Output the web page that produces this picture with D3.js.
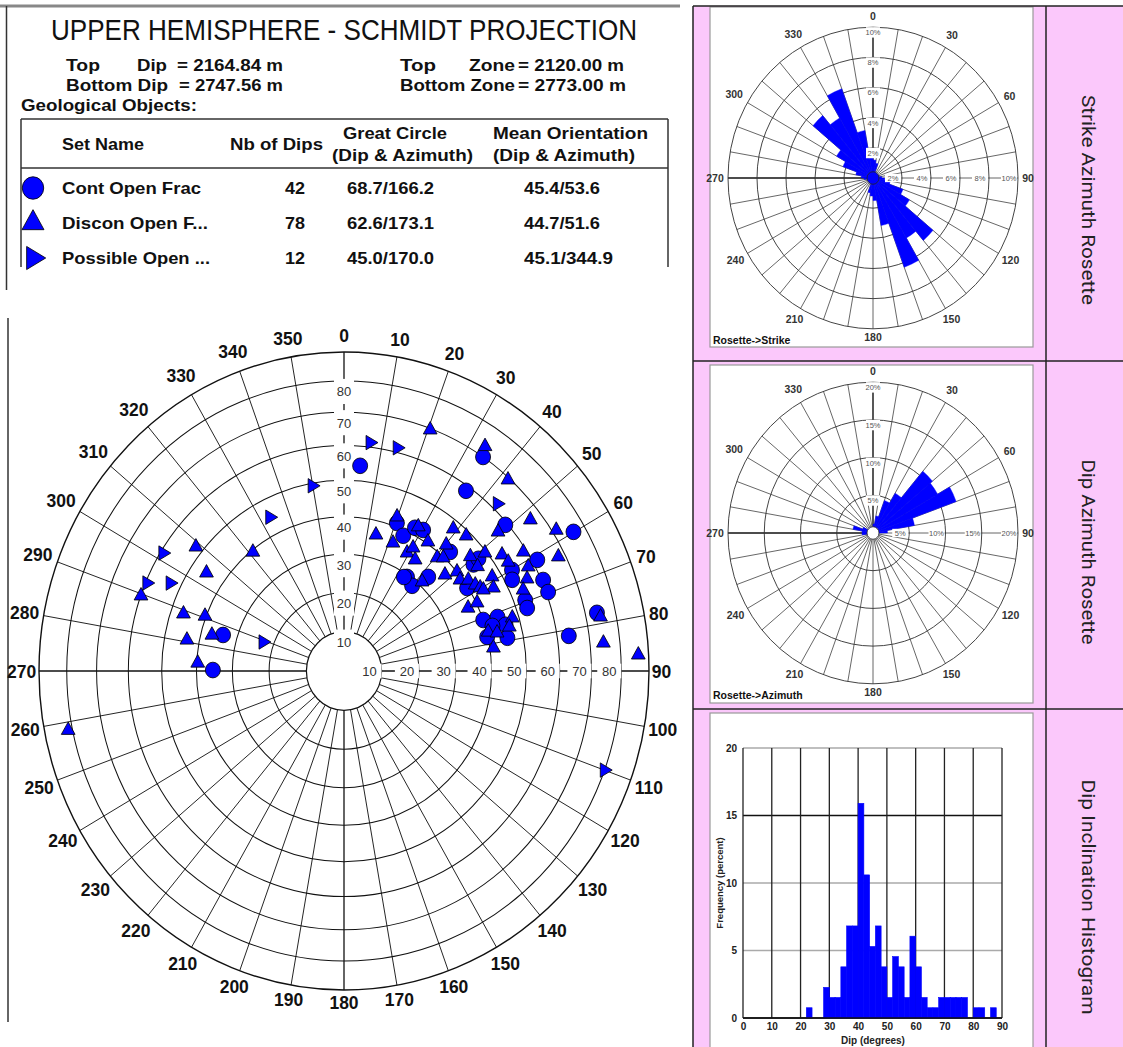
<!DOCTYPE html>
<html>
<head>
<meta charset="utf-8">
<script src="https://cdn.jsdelivr.net/npm/d3@7"></script>
<style>
  body { margin: 0; background: #fff; }
  svg { display: block; font-family: "Liberation Sans", Arial, sans-serif; }
</style>
</head>
<body>
<script>
// ---- data ----
// stereonet points, [dip, azimuth]
const contOpenFrac = [
  [54.3, 4.7], [70.0, 34.2], [58.6, 35.3], [59.3, 49.1], [75.9, 59.9], [61.5, 61.2],
  [41.0, 20.5], [38.5, 24.6], [41.9, 27.4], [42.5, 30.4], [42.3, 43.0], [29.5, 35.0],
  [28.5, 39.9], [29.0, 33.7], [33.2, 43.1], [44.9, 51.8], [47.0, 51.4], [39.7, 57.2],
  [53.4, 60.1], [52.1, 62.6], [53.3, 69.5], [53.1, 71.8], [60.5, 66.4], [60.6, 69.7],
  [40.0, 70.7], [44.1, 71.4], [45.7, 74.7], [42.0, 73.8], [45.4, 79.0], [39.8, 77.2],
  [73.8, 77.6], [63.6, 81.5], [33.9, 285.9], [35.4, 270.4]
];
const disconOpenFrac = [
  [69.6, 20.5], [73.1, 33.3], [69.4, 41.9], [66.3, 52.2], [56.3, 49.2], [71.3, 57.6],
  [67.8, 63.0], [59.0, 57.6], [42.6, 19.8], [36.2, 13.8], [35.6, 21.8], [42.6, 28.3],
  [40.5, 34.2], [34.9, 29.2], [34.5, 33.8], [36.9, 30.4], [47.7, 38.8], [48.7, 43.4],
  [43.0, 40.3], [38.7, 40.7], [39.8, 42.5], [31.1, 42.5], [36.9, 47.7], [40.0, 50.0],
  [39.3, 53.1], [45.6, 49.1], [49.5, 51.3], [45.5, 53.2], [41.2, 55.0], [42.1, 57.9],
  [42.9, 59.7], [47.4, 58.7], [46.2, 62.0], [43.4, 60.9], [37.3, 64.1], [40.2, 63.9],
  [53.2, 54.9], [53.6, 57.6], [58.1, 61.6], [56.2, 64.3], [53.8, 66.6], [48.1, 73.2],
  [46.6, 75.7], [40.4, 75.5], [42.8, 76.6], [41.0, 81.6], [74.7, 78.6], [74.4, 84.1],
  [86.2, 87.0], [81.5, 258.4], [39.5, 321.3], [52.2, 308.7], [45.4, 304.3], [59.9, 289.5],
  [46.3, 288.8], [40.3, 290.7], [36.9, 284.6], [43.5, 280.7], [39.7, 273.0]
];
const possibleOpen = [
  [61.3, 6.8], [61.3, 14.0], [61.8, 43.8], [79.9, 110.0], [49.3, 349.8],
  [44.9, 333.2], [59.3, 301.9], [59.6, 293.1], [53.2, 295.8], [22.9, 288.9]
];

// header table
const setNames = ["Cont Open Frac", "Discon Open F...", "Possible Open ..."];
const nbDips = ["42", "78", "12"];
const greatCircle = ["68.7/166.2", "62.6/173.1", "45.0/170.0"];
const meanOrientation = ["45.4/53.6", "44.7/51.6", "45.1/344.9"];

// stereonet grid
const ringDips = [20, 30, 40, 50, 60, 70, 80];
const dipLabels = [10, 20, 30, 40, 50, 60, 70, 80];
const azimuthTicks = d3.range(0, 360, 10);

// strike rosette (10 degree bins, bidirectional)
const strikeBins = [0, 10, 20, 30, 40, 50, 60, 70, 80, 90, 100, 110, 120, 130, 140, 150, 160, 170];
const strikePct = [1.2, 1.0, 0.4, 0.3, 0.3, 0.3, 0.4, 0.4, 0.6, 0.8, 1.2, 2.2, 2.9, 5.4, 4.6, 6.3, 3.2, 1.5];

// dip azimuth rosette (10 degree bins)
const dipAzBins = d3.range(0, 360, 10);
const dipAzPct = [1.2, 2.3, 4.6, 6.1, 10.7, 10.3, 12.2, 5.8, 2.0, 0.8, 0.8, 0, 0, 0, 0, 0, 0, 0,
                  0, 0, 0, 0, 0, 0, 0, 0.8, 1.5, 1.5, 2.8, 1.5, 0.8, 0.8, 0.8, 0.8, 0.8, 0.8];

// dip inclination histogram (2 degree bins)
const histBins = d3.range(0, 90, 2);
const histPct = [0, 0, 0, 0, 0, 0, 0, 0, 0, 0, 0, 0.76, 0, 0, 2.27, 1.52, 1.52, 3.79, 6.82, 6.82,
                 15.9, 10.6, 5.3, 6.82, 3.79, 1.52, 4.55, 3.79, 1.52, 6.06, 3.79, 1.52, 0.76, 0.76,
                 1.52, 1.52, 1.52, 1.52, 1.52, 0, 0.76, 0.76, 0, 0.76, 0];
const histXTicks = d3.range(0, 91, 10);
const histYTicks = [0, 5, 10, 15, 20];

const panelTitles = ["Strike Azimuth Rosette", "Dip Azimuth Rosette", "Dip Inclination Histogram"];

// ---- drawing ----
const W = 1123, H = 1047;
const blue = "#0000ff", pink = "#fbc8fb";
const svg = d3.select("body").append("svg").attr("width", W).attr("height", H);
const angle = d3.scaleLinear().domain([0, 360]).range([0, 2 * Math.PI]);

// right side panels
svg.append("rect").attr("x", 693).attr("y", 6).attr("width", 430).attr("height", H - 6).attr("fill", pink);
[[710, 7, 323, 340], [710, 365, 323, 338], [710, 713, 323, 340]].forEach(b => {
  svg.append("rect").attr("x", b[0]).attr("y", b[1]).attr("width", b[2]).attr("height", b[3])
    .attr("fill", "#fff").attr("stroke", "#999").attr("stroke-width", 1.2);
});
const frame = svg.append("g").attr("stroke", "#222").attr("stroke-width", 1.5);
[[693, 6, 1123, 6], [693, 6, 693, H], [1046, 6, 1046, H], [693, 361, 1123, 361], [693, 709, 1123, 709]]
  .forEach(l => frame.append("line").attr("x1", l[0]).attr("y1", l[1]).attr("x2", l[2]).attr("y2", l[3]));

const titleY = [200, 552, 897], titleLen = [210, 185, 235];
panelTitles.forEach((t, i) => {
  svg.append("text").attr("transform", `translate(1082,${titleY[i]}) rotate(90)`)
    .attr("text-anchor", "middle").attr("font-family", "Roboto, sans-serif").attr("font-size", 18)
    .attr("fill", "#222").attr("textLength", titleLen[i]).attr("lengthAdjust", "spacingAndGlyphs").text(t);
});

// header
svg.append("line").attr("x1", 0).attr("y1", 6).attr("x2", 680).attr("y2", 6).attr("stroke", "#888").attr("stroke-width", 3);
svg.append("line").attr("x1", 6.5).attr("y1", 6).attr("x2", 6.5).attr("y2", 290).attr("stroke", "#333").attr("stroke-width", 1.5);
svg.append("line").attr("x1", 8).attr("y1", 318).attr("x2", 8).attr("y2", 1022).attr("stroke", "#333").attr("stroke-width", 1.5);

function txt(x, y, s, size, len, opts = {}) {
  const t = svg.append("text").attr("x", x).attr("y", y).attr("font-size", size)
    .attr("font-weight", opts.weight || "bold").attr("fill", "#111")
    .attr("text-anchor", opts.anchor || "start").text(s);
  if (len) t.attr("textLength", len).attr("lengthAdjust", "spacingAndGlyphs");
  return t;
}
txt(51, 40, "UPPER HEMISPHERE - SCHMIDT PROJECTION", 29, 586, { weight: "normal" });
txt(66, 71, "Top", 17, 34); txt(137, 71, "Dip", 17, 30); txt(177, 71, "= 2164.84 m", 17, 106);
txt(66, 91, "Bottom Dip", 17, 102); txt(179, 91, "= 2747.56 m", 17, 104);
txt(400, 71, "Top", 17, 36); txt(469, 71, "Zone", 17, 46); txt(518, 71, "= 2120.00 m", 17, 106);
txt(400, 91, "Bottom Zone", 17, 115); txt(518, 91, "= 2773.00 m", 17, 108);
txt(21, 111, "Geological Objects:", 17, 176);

const tbl = svg.append("g").attr("stroke", "#333").attr("stroke-width", 1.5);
[[21, 119, 668, 119], [21, 168, 668, 168], [21, 119, 21, 267], [668, 119, 668, 267]]
  .forEach(l => tbl.append("line").attr("x1", l[0]).attr("y1", l[1]).attr("x2", l[2]).attr("y2", l[3]));
txt(62, 150, "Set Name", 17, 82);
txt(230, 150, "Nb of Dips", 17, 93);
txt(343, 139, "Great Circle", 17, 104);
txt(332, 161, "(Dip & Azimuth)", 17, 141);
txt(493, 139, "Mean Orientation", 17, 155);
txt(493, 161, "(Dip & Azimuth)", 17, 142);
const rowY = [194, 229, 264], nameLen = [139, 146, 148], meanLen = [76, 76, 89];
setNames.forEach((n, i) => {
  txt(62, rowY[i], n, 17, nameLen[i]);
  txt(295, rowY[i], nbDips[i], 17, 20, { anchor: "middle" });
  txt(347, rowY[i], greatCircle[i], 17, 87);
  txt(524, rowY[i], meanOrientation[i], 17, meanLen[i]);
});
const legendSym = [d3.symbolCircle, d3.symbolTriangle, d3.symbolTriangle];
legendSym.forEach((s, i) => {
  svg.append("path").attr("d", d3.symbol().type(s).size(i === 0 ? 360 : 210)())
    .attr("transform", `translate(33,${rowY[i] - 6}) scale(1,1.05)` + (i === 2 ? " rotate(90)" : ""))
    .attr("fill", blue).attr("stroke", "#000").attr("stroke-width", 0.8);
});

// ---- stereonet ----
const R = 305, cx = 344, cy = 671, stretch = 1.046;
const eqArea = d3.scaleLinear().domain([0, 1]).range([0, R]);
const rad = d => eqArea(Math.SQRT2 * Math.sin(d * Math.PI / 360));
const pos = (dip, az) => [rad(dip) * Math.sin(angle(az)), -rad(dip) * Math.cos(angle(az))];

const sg = svg.append("g").attr("transform", `translate(${cx},${cy}) scale(1,${stretch})`);
sg.selectAll("line.spoke").data(azimuthTicks).join("line").attr("class", "spoke")
  .attr("x1", a => rad(10) * Math.sin(angle(a))).attr("y1", a => -rad(10) * Math.cos(angle(a)))
  .attr("x2", a => R * Math.sin(angle(a))).attr("y2", a => -R * Math.cos(angle(a)))
  .attr("stroke", "#111").attr("stroke-width", a => a % 90 === 0 ? 1.3 : 0.9);
sg.selectAll("circle.ring").data(ringDips).join("circle").attr("class", "ring")
  .attr("r", d => rad(d)).attr("fill", "none").attr("stroke", "#111").attr("stroke-width", 1);
sg.append("circle").attr("r", R).attr("fill", "none").attr("stroke", "#111").attr("stroke-width", 1.4);
sg.append("circle").attr("r", rad(10)).attr("fill", "#fff").attr("stroke", "#111").attr("stroke-width", 1.2);

// dip labels on the north and east axes
dipLabels.forEach(d => {
  const yN = -(rad(d) - 10), xE = rad(d) - 12;
  sg.append("rect").attr("x", -10).attr("y", yN - 12).attr("width", 20).attr("height", 24).attr("fill", "#fff");
  sg.append("rect").attr("x", xE - 12).attr("y", -7).attr("width", 24).attr("height", 14).attr("fill", "#fff");
  sg.append("text").attr("x", 0).attr("y", yN).attr("dy", "0.36em").attr("text-anchor", "middle")
    .attr("font-size", 13).attr("fill", "#333").text(d);
  sg.append("text").attr("x", xE).attr("y", 0).attr("dy", "0.36em").attr("text-anchor", "middle")
    .attr("font-size", 13).attr("fill", "#333").text(d);
});

// azimuth labels
azimuthTicks.forEach(a => {
  const s = Math.sin(angle(a)), c = Math.cos(angle(a)), t = String(a);
  const hw = t.length * 4.8, hh = 6.5;
  const gap = 3 + 6 * Math.max(0, c) + 2 * Math.max(0, -c);
  const off = R + hw * Math.abs(s) + hh * Math.abs(c) + gap;
  sg.append("text").attr("x", off * s).attr("y", -off * c).attr("dy", "0.36em")
    .attr("text-anchor", "middle").attr("font-size", 17.5).attr("font-weight", "bold").attr("fill", "#111").text(t);
});

// points
const mk = g => g.attr("fill", blue).attr("stroke", "#000").attr("stroke-width", 0.8);
mk(sg.selectAll("circle.cof").data(contOpenFrac).join("circle").attr("class", "cof")
  .attr("cx", d => pos(d[0], d[1])[0]).attr("cy", d => pos(d[0], d[1])[1]).attr("r", 7.5));
const tri = d3.symbol().type(d3.symbolTriangle).size(82);
mk(sg.selectAll("path.dof").data(disconOpenFrac).join("path").attr("class", "dof").attr("d", tri)
  .attr("transform", d => `translate(${pos(d[0], d[1])})`));
mk(sg.selectAll("path.po").data(possibleOpen).join("path").attr("class", "po").attr("d", tri)
  .attr("transform", d => `translate(${pos(d[0], d[1])}) rotate(90)`));

// ---- rosettes ----
function rosette(ocx, ocy, maxPct, step, bins, pcts, mirror, hubFill, caption, capY) {
  const RR = 145;
  const g = svg.append("g").attr("transform", `translate(${ocx},${ocy}) scale(1,1.04)`);
  const r = d3.scaleLinear().domain([0, maxPct]).range([0, RR]);
  const rings = d3.range(step, maxPct + 0.001, step);
  g.selectAll("line.sp").data(d3.range(0, 360, 10)).join("line")
    .attr("x1", a => 6 * Math.sin(angle(a))).attr("y1", a => -6 * Math.cos(angle(a)))
    .attr("x2", a => RR * Math.sin(angle(a))).attr("y2", a => -RR * Math.cos(angle(a)))
    .attr("stroke", a => (a === 0 || a === 270) ? "#111" : "#444")
    .attr("stroke-width", a => (a === 0 || a === 270) ? 1.4 : 0.8);
  g.selectAll("circle.rg").data(rings).join("circle").attr("r", d => r(d))
    .attr("fill", "none").attr("stroke", "#333").attr("stroke-width", 0.9);
  const bars = [];
  bins.forEach((b, i) => {
    bars.push({ b, p: pcts[i] });
    if (mirror) bars.push({ b: b + 180, p: pcts[i] });
  });
  const arc = d3.arc().innerRadius(0);
  g.selectAll("path.bar").data(bars.filter(d => d.p > 0)).join("path")
    .attr("d", d => arc({ outerRadius: r(d.p), startAngle: angle(d.b), endAngle: angle(d.b + 10) }))
    .attr("fill", blue).attr("stroke", blue).attr("stroke-width", 0.4);
  g.append("circle").attr("r", 6).attr("fill", hubFill).attr("stroke", "#222").attr("stroke-width", 0.8);
  rings.forEach(p => {
    const yN = -(r(p) - 5), xE = r(p) - 9;
    g.append("rect").attr("x", -7).attr("y", yN - 5).attr("width", 14).attr("height", 10).attr("fill", "#fff");
    g.append("rect").attr("x", xE - 8).attr("y", -4).attr("width", 16).attr("height", 8).attr("fill", "#fff");
    g.append("text").attr("x", 0).attr("y", yN).attr("dy", "0.35em").attr("text-anchor", "middle")
      .attr("font-size", 7.5).attr("fill", "#555").text(p + "%");
    g.append("text").attr("x", xE).attr("y", 0).attr("dy", "0.35em").attr("text-anchor", "middle")
      .attr("font-size", 7.5).attr("fill", "#555").text(p + "%");
  });
  d3.range(0, 360, 30).forEach(a => {
    const s = Math.sin(angle(a)), c = Math.cos(angle(a)), t = String(a);
    const off = RR + t.length * 3 * Math.abs(s) + 4 * Math.abs(c) + 4 + 3 * Math.max(0, c);
    g.append("text").attr("x", off * s).attr("y", -off * c).attr("dy", "0.35em")
      .attr("text-anchor", "middle").attr("font-size", 10.5).attr("font-weight", "bold").attr("fill", "#333").text(t);
  });
  svg.append("text").attr("x", 713).attr("y", capY).attr("font-size", 10.5).attr("font-weight", "bold")
    .attr("fill", "#111").text(caption);
}
rosette(873, 178, 10, 2, strikeBins, strikePct, true, blue, "Rosette->Strike", 344);
rosette(873, 533, 20, 5, dipAzBins, dipAzPct, false, "#fff", "Rosette->Azimuth", 699);

// ---- histogram ----
const hx = d3.scaleLinear().domain([0, 90]).range([743, 1002]);
const hy = d3.scaleLinear().domain([0, 20]).range([1018, 748]);
const hg = svg.append("g");
hg.selectAll("line.hgrid").data(histYTicks).join("line")
  .attr("x1", hx(0)).attr("x2", hx(90)).attr("y1", d => hy(d)).attr("y2", d => hy(d))
  .attr("stroke", d => (d === 0 || d === 15) ? "#111" : "#aaa").attr("stroke-width", 1.4);
hg.selectAll("line.vgrid").data(histXTicks).join("line")
  .attr("x1", d => hx(d)).attr("x2", d => hx(d)).attr("y1", hy(20)).attr("y2", hy(0))
  .attr("stroke", "#222").attr("stroke-width", 1.3);
hg.selectAll("rect.hbar").data(histBins.map((b, i) => ({ b, p: histPct[i] })).filter(d => d.p > 0)).join("rect")
  .attr("x", d => hx(d.b)).attr("width", d => hx(d.b + 2) - hx(d.b))
  .attr("y", d => hy(d.p)).attr("height", d => hy(0) - hy(d.p))
  .attr("fill", blue).attr("stroke", blue).attr("stroke-width", 0.6);
const xAxis = hg.append("g").attr("transform", `translate(0,${hy(0)})`)
  .call(d3.axisBottom(hx).tickValues(histXTicks).tickSize(0).tickPadding(5));
const yAxis = hg.append("g").attr("transform", `translate(${hx(0)},0)`)
  .call(d3.axisLeft(hy).tickValues(histYTicks).tickSize(0).tickPadding(6));
[xAxis, yAxis].forEach(a => {
  a.select(".domain").remove();
  a.selectAll("text").attr("font-size", 10).attr("font-weight", "bold").attr("fill", "#222")
    .attr("font-family", "Liberation Sans, Arial, sans-serif");
});
hg.append("line").attr("x1", hx(0)).attr("x2", hx(90)).attr("y1", hy(0)).attr("y2", hy(0))
  .attr("stroke", "#111").attr("stroke-width", 1.4);
hg.append("text").attr("x", 873).attr("y", 1044).attr("text-anchor", "middle").attr("font-size", 10)
  .attr("font-weight", "bold").attr("fill", "#222").text("Dip (degrees)");
hg.append("text").attr("transform", "translate(723,883) rotate(-90)").attr("text-anchor", "middle")
  .attr("font-size", 9.5).attr("font-weight", "bold").attr("fill", "#222").text("Frequency (percent)");
</script>
</body>
</html>
